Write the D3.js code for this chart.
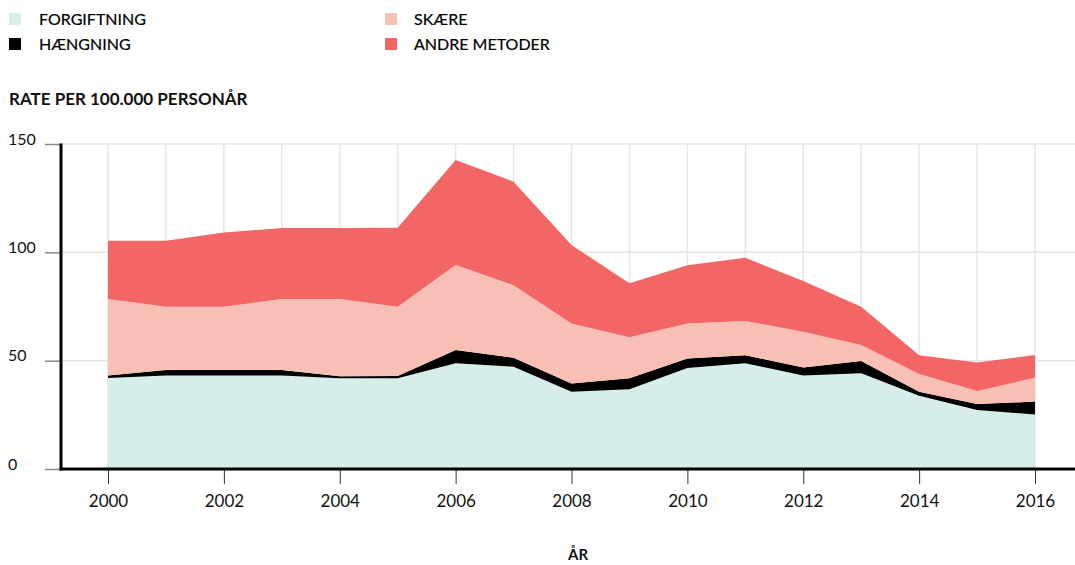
<!DOCTYPE html>
<html>
<head>
<meta charset="utf-8">
<script src="https://cdn.jsdelivr.net/npm/d3@7/dist/d3.min.js"></script>
<style>
  html, body { margin: 0; padding: 0; background: #fff; }
  svg { display: block; font-family: Lato, "Open Sans", sans-serif; }
</style>
</head>
<body>
<svg id="chart" width="1075" height="565"></svg>
<script>
// Rates per 100,000 person-years, by method, 2000–2016
const years       = [2000, 2001, 2002, 2003, 2004, 2005, 2006, 2007, 2008, 2009, 2010, 2011, 2012, 2013, 2014, 2015, 2016];
const forgiftning = [42.0, 43.1, 43.1, 43.1, 41.9, 41.9, 48.8, 47.2, 35.7, 36.8, 46.6, 48.8, 43.1, 44.2, 33.8, 27.2, 25.2];
const haengning   = [1.2, 2.6, 2.6, 2.6, 0.9, 1.0, 6.1, 4.2, 3.8, 5.1, 4.4, 3.7, 3.8, 5.6, 1.9, 2.8, 5.9];
const skaere      = [35.3, 29.2, 29.2, 32.8, 35.7, 32.0, 39.3, 33.4, 27.7, 18.9, 16.2, 15.8, 16.5, 7.4, 8.1, 6.0, 11.0];
const andre       = [26.9, 30.5, 34.3, 32.7, 32.7, 36.5, 48.4, 47.8, 36.2, 24.9, 26.8, 29.2, 23.4, 17.7, 8.7, 13.2, 10.5];

const seriesKeys   = ["forgiftning", "haengning", "skaere", "andre"];
const seriesLabels = ["FORGIFTNING", "HÆNGNING", "SKÆRE", "ANDRE METODER"];
const seriesColors = ["#d7ede9", "#000000", "#f8bfb4", "#f26666"];
const yTicks = [0, 50, 100, 150];
const xTicks = [2000, 2002, 2004, 2006, 2008, 2010, 2012, 2014, 2016];

const rows = years.map((yr, i) => ({
  year: yr,
  forgiftning: forgiftning[i],
  haengning: haengning[i],
  skaere: skaere[i],
  andre: andre[i]
}));

const svg = d3.select("#chart");
const W = 1075;
const axisX = 61, axisY = 469;

const x = d3.scaleLinear().domain([2000, 2016]).range([108, 1035]);
const y = d3.scaleLinear().domain([0, 150]).range([469, 144]);
const color = d3.scaleOrdinal().domain(seriesKeys).range(seriesColors);

// Legend
const legend = svg.append("g");
seriesKeys.forEach((k, i) => {
  const col = i < 2 ? 0 : 1;
  const row = i % 2;
  const g = legend.append("g")
    .attr("transform", `translate(${col === 0 ? 9 : 385},${13 + row * 25})`);
  g.append("rect").attr("width", 12).attr("height", 12).attr("fill", color(k));
  g.append("text")
    .attr("x", col === 0 ? 30 : 29).attr("y", 11.5)
    .attr("font-size", 16).attr("fill", "#000")
    .attr("stroke", "#000").attr("stroke-width", 0.2)
    .text(seriesLabels[i]);
});

// Y-axis title
svg.append("text")
  .attr("x", 9).attr("y", 105)
  .attr("font-size", 17).attr("font-weight", 700).attr("fill", "#111")
  .text("RATE PER 100.000 PERSONÅR");

// Gridlines
const grid = svg.append("g").attr("stroke", "#e6e6e6").attr("stroke-width", 1.5);
grid.selectAll("line.h").data(yTicks.filter(d => d > 0)).join("line")
  .attr("x1", axisX).attr("x2", W)
  .attr("y1", d => y(d)).attr("y2", d => y(d));
grid.selectAll("line.v").data(years).join("line")
  .attr("x1", d => x(d)).attr("x2", d => x(d))
  .attr("y1", y(150)).attr("y2", axisY);

// Stacked areas
const stacked = d3.stack().keys(seriesKeys)(rows);
const area = d3.area()
  .x(d => x(d.data.year))
  .y0(d => y(d[0]))
  .y1(d => y(d[1]))
  .curve(d3.curveLinear);

svg.append("g").selectAll("path").data(stacked).join("path")
  .attr("fill", d => color(d.key))
  .attr("d", area);

// X axis
const xAxis = svg.append("g")
  .attr("transform", `translate(0,${axisY})`)
  .call(d3.axisBottom(x).tickValues(xTicks).tickFormat(d3.format("d")).tickSize(15).tickSizeOuter(0));
xAxis.select(".domain").remove();
xAxis.selectAll(".tick line").attr("stroke", "#333").attr("stroke-width", 1);
xAxis.selectAll(".tick text")
  .attr("y", 38).attr("dy", 0)
  .attr("font-family", "Lato, sans-serif")
  .attr("font-size", 17).attr("fill", "#111");
svg.append("line")
  .attr("x1", axisX - 1.5).attr("x2", W)
  .attr("y1", axisY).attr("y2", axisY)
  .attr("stroke", "#000").attr("stroke-width", 3);

// Y axis
const yAxis = svg.append("g")
  .attr("transform", `translate(${axisX},0)`)
  .call(d3.axisLeft(y).tickValues(yTicks).tickSize(16).tickSizeOuter(0));
yAxis.select(".domain").remove();
yAxis.selectAll(".tick line").attr("stroke", "#888").attr("stroke-width", 1.5);
yAxis.selectAll(".tick text")
  .attr("x", 8 - axisX).attr("dy", 0).attr("y", 0)
  .attr("text-anchor", "start")
  .attr("font-family", "Lato, sans-serif")
  .attr("font-size", 16).attr("fill", "#111");
svg.append("line")
  .attr("x1", axisX).attr("x2", axisX)
  .attr("y1", y(150) - 0.5).attr("y2", axisY + 1.5)
  .attr("stroke", "#000").attr("stroke-width", 3);

// X-axis title
svg.append("text")
  .attr("x", 578).attr("y", 560)
  .attr("text-anchor", "middle")
  .attr("font-size", 15).attr("font-weight", 700).attr("fill", "#111")
  .text("ÅR");
</script>
</body>
</html>
